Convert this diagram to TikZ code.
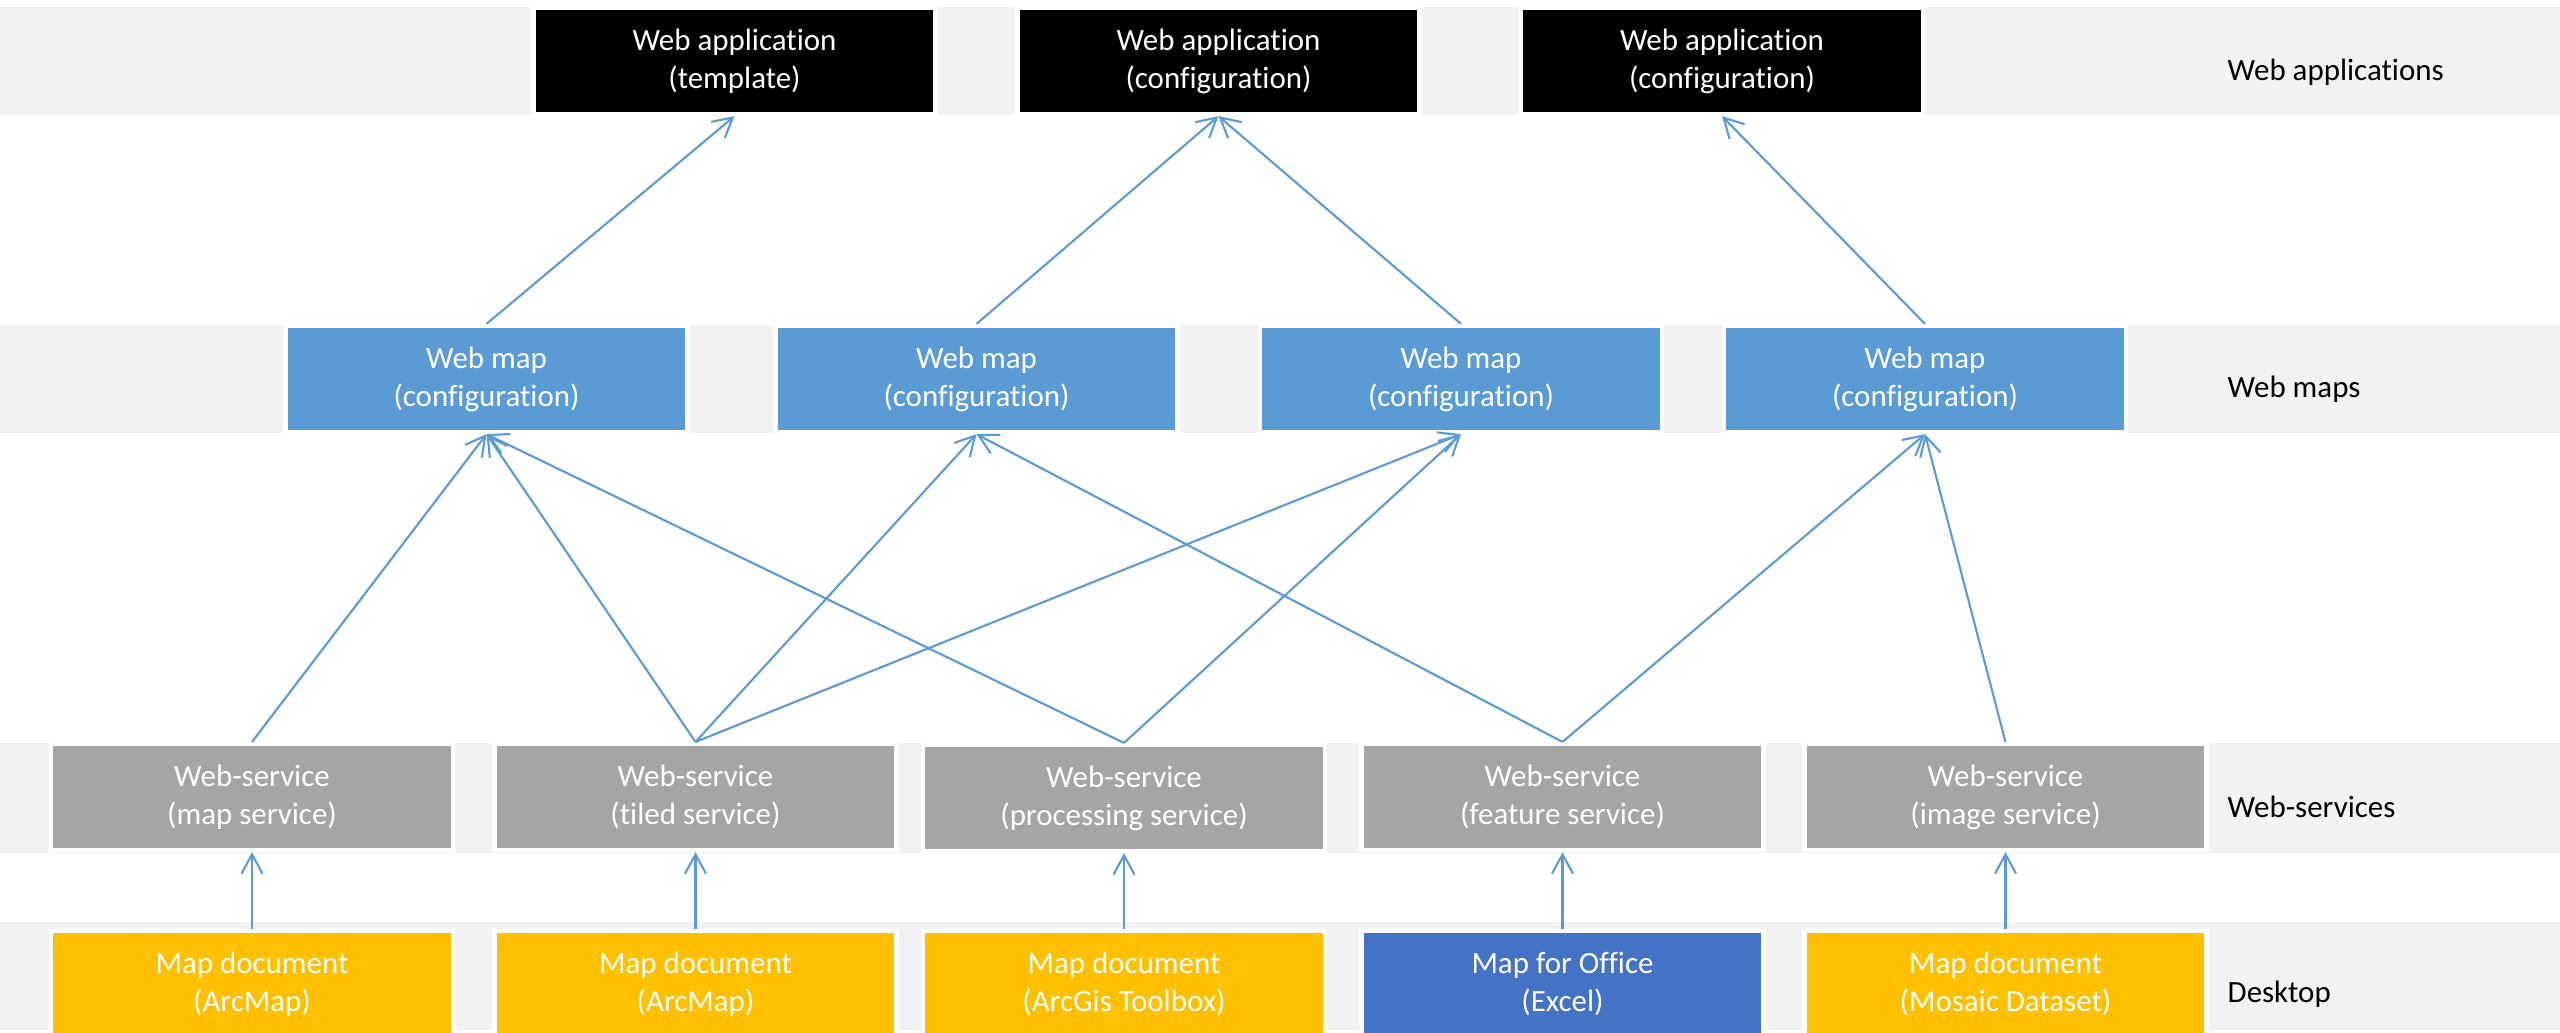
\documentclass[tikz,border=0pt]{standalone}
\usepackage{fontspec}
\setmainfont{Carlito}[Ligatures=NoCommon]
\usepackage{tikz}
\usetikzlibrary{arrows.meta}

\definecolor{bandgray}{HTML}{F2F2F2}
\definecolor{mapblue}{HTML}{5B9BD5}
\definecolor{svcgray}{HTML}{A5A5A5}
\definecolor{docyellow}{HTML}{FFC000}
\definecolor{officeblue}{HTML}{4472C4}
\definecolor{linkblue}{HTML}{5B9BD5}

\tikzset{
  layerbox/.style={draw=white, line width=1.2pt, text=white, align=center,
    minimum width=4.02cm, minimum height=1.06cm, inner sep=0pt,
    font=\fontsize{8.8}{10.8}\selectfont},
  layername/.style={anchor=base west, inner sep=0pt, font=\fontsize{8.8}{10.8}\selectfont},
  link/.style={-{Straight Barb[length=5.5pt,width=6pt]}, linkblue, line width=0.6pt},
}

\begin{document}
\begin{tikzpicture}
\useasboundingbox (0,0) rectangle (25.6,-10.32);

% layer bands
\fill[bandgray] (0,-0.07) rectangle (25.6,-1.15);
\fill[bandgray] (0,-3.25) rectangle (25.6,-4.33);
\fill[bandgray] (0,-7.43) rectangle (25.6,-8.53);
\fill[bandgray] (0,-9.22) rectangle (25.6,-10.30);

% web applications
\node[layerbox, fill=black] (app1) at (7.345,-0.61)  {Web application\\(template)};
\node[layerbox, fill=black] (app2) at (12.185,-0.61) {Web application\\(configuration)};
\node[layerbox, fill=black] (app3) at (17.22,-0.61)  {Web application\\(configuration)};

% web maps
\node[layerbox, fill=mapblue] (map1) at (4.865,-3.79) {Web map\\(configuration)};
\node[layerbox, fill=mapblue] (map2) at (9.765,-3.79) {Web map\\(configuration)};
\node[layerbox, fill=mapblue] (map3) at (14.61,-3.79) {Web map\\(configuration)};
\node[layerbox, fill=mapblue] (map4) at (19.25,-3.79) {Web map\\(configuration)};

% web services
\node[layerbox, fill=svcgray] (svc1) at (2.52,-7.97)   {Web-service\\(map service)};
\node[layerbox, fill=svcgray] (svc2) at (6.955,-7.97)  {Web-service\\(tiled service)};
\node[layerbox, fill=svcgray] (svc3) at (11.24,-7.98)  {Web-service\\(processing service)};
\node[layerbox, fill=svcgray] (svc4) at (15.625,-7.97) {Web-service\\(feature service)};
\node[layerbox, fill=svcgray] (svc5) at (20.055,-7.97) {Web-service\\(image service)};

% desktop
\node[layerbox, fill=docyellow]  (doc1) at (2.52,-9.84)   {Map document\\(ArcMap)};
\node[layerbox, fill=docyellow]  (doc2) at (6.955,-9.84)  {Map document\\(ArcMap)};
\node[layerbox, fill=docyellow]  (doc3) at (11.24,-9.84)  {Map document\\(ArcGis Toolbox)};
\node[layerbox, fill=officeblue] (doc4) at (15.625,-9.84) {Map for Office\\(Excel)};
\node[layerbox, fill=docyellow]  (doc5) at (20.055,-9.84) {Map document\\(Mosaic Dataset)};

% layer names
\node[layername] (lapps) at (22.27,-0.80)  {Web applications};
\node[layername] (lmaps) at (22.27,-3.97)  {Web maps};
\node[layername] (lsvcs) at (22.27,-8.17)  {Web-services};
\node[layername] (ldesk) at (22.27,-10.02) {Desktop};

% desktop -> services
\foreach \i in {1,...,5}
  \draw[link] (doc\i.north) -- (svc\i.south);

% services -> maps
\draw[link] (svc1.north) -- (map1.south);
\draw[link] (svc2.north) -- (map1.south);
\draw[link] (svc2.north) -- (map2.south);
\draw[link] (svc2.north) -- (map3.south);
\draw[link] (svc3.north) -- (map1.south);
\draw[link] (svc3.north) -- (map3.south);
\draw[link] (svc4.north) -- (map2.south);
\draw[link] (svc4.north) -- (map4.south);
\draw[link] (svc5.north) -- (map4.south);

% maps -> applications
\draw[link] (map1.north) -- (app1.south);
\draw[link] (map2.north) -- (app2.south);
\draw[link] (map3.north) -- (app2.south);
\draw[link] (map4.north) -- (app3.south);
\end{tikzpicture}
\end{document}
